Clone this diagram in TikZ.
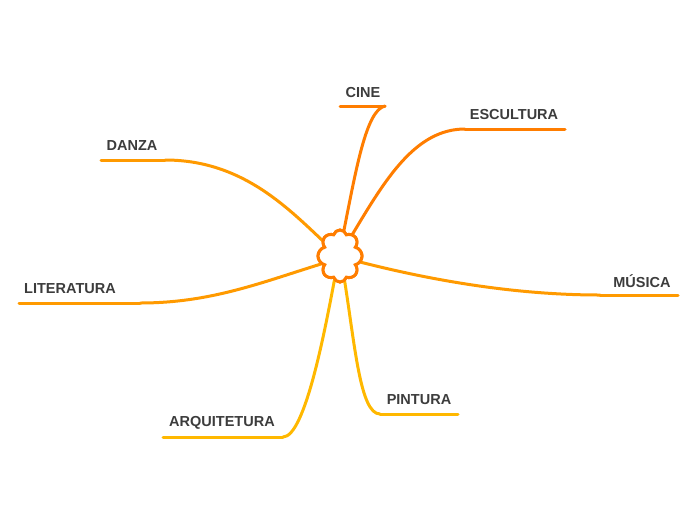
\documentclass[tikz,border=0pt]{standalone}
\usepackage{fontspec}
\setmainfont{Liberation Sans}
\usetikzlibrary{shapes.symbols}
\definecolor{oA}{HTML}{FF7D00}
\definecolor{oB}{HTML}{FF9A00}
\definecolor{oC}{HTML}{FFB800}
\definecolor{txt}{HTML}{3C3C3C}
\begin{document}
\begin{tikzpicture}[x=1pt,y=-1pt,
  lbl/.style={text=txt,font=\fontsize{14.5}{16}\selectfont\bfseries,inner sep=0pt},
  branch/.style={line width=3pt,line cap=round},
  hub/.style={cloud,cloud puffs=8,cloud puff arc=150,aspect=0.85,draw=oA,line width=3pt,fill=white,
      minimum width=44pt,minimum height=52pt,inner sep=0pt}]
\useasboundingbox (0,0) rectangle (696,520);
% center cloud
\node[hub] (c) at (340,256) {};
% labels
\node[lbl] (cine) at (363,93) {CINE};
\node[lbl] (esc) at (514,115) {ESCULTURA};
\node[lbl] (danza) at (132,146) {DANZA};
\node[lbl] (lit) at (70,289) {LITERATURA};
\node[lbl] (mus) at (642,281) {MÚSICA};
\node[lbl] (pin) at (419,400) {PINTURA};
\node[lbl] (arq) at (222,423) {ARQUITETURA};
% underline ends
\coordinate (cineA) at (340,106); \coordinate (cineB) at (385,106);
\coordinate (escA) at (465,129); \coordinate (escB) at (565,129);
\coordinate (danA) at (101,160); \coordinate (danB) at (165,160);
\coordinate (litA) at (19,303); \coordinate (litB) at (140,303);
\coordinate (musA) at (600,295); \coordinate (musB) at (678,295);
\coordinate (pinA) at (380,414); \coordinate (pinB) at (458,414);
\coordinate (arqA) at (163,437); \coordinate (arqB) at (283,437);
% cloud attachment points
\coordinate (cN1) at (343,235);
\coordinate (cN2) at (352,235);
\coordinate (cW1) at (324,242);
\coordinate (cW2) at (321,264);
\coordinate (cE) at (360,262);
\coordinate (cS1) at (335,277);
\coordinate (cS2) at (344,277);
% connectors
\draw[branch,oA] (cineA) -- (cineB);
\draw[branch,oA] (cN1) .. controls (356,170) and (366,110) .. (cineB);
\draw[branch,oA] (escB) -- (escA);
\draw[branch,oA] (cN2) .. controls (385,180) and (415,129) .. (escA);
\draw[branch,oB] (danA) -- (danB);
\draw[branch,oB] (cW1) .. controls (285,205) and (240,160) .. (danB);
\draw[branch,oB] (litA) -- (litB);
\draw[branch,oB] (cW2) .. controls (260,283) and (210,303) .. (litB);
\draw[branch,oB] (musB) -- (musA);
\draw[branch,oB] (cE) .. controls (450,285) and (530,295) .. (musA);
\draw[branch,oC] (pinB) -- (pinA);
\draw[branch,oC] (cS2) .. controls (355,345) and (360,414) .. (pinA);
\draw[branch,oC] (arqA) -- (arqB);
\draw[branch,oC] (cS1) .. controls (325,330) and (305,437) .. (arqB);
% cloud on top of connector ends
\node[hub] at (c) {};
\end{tikzpicture}
\end{document}
